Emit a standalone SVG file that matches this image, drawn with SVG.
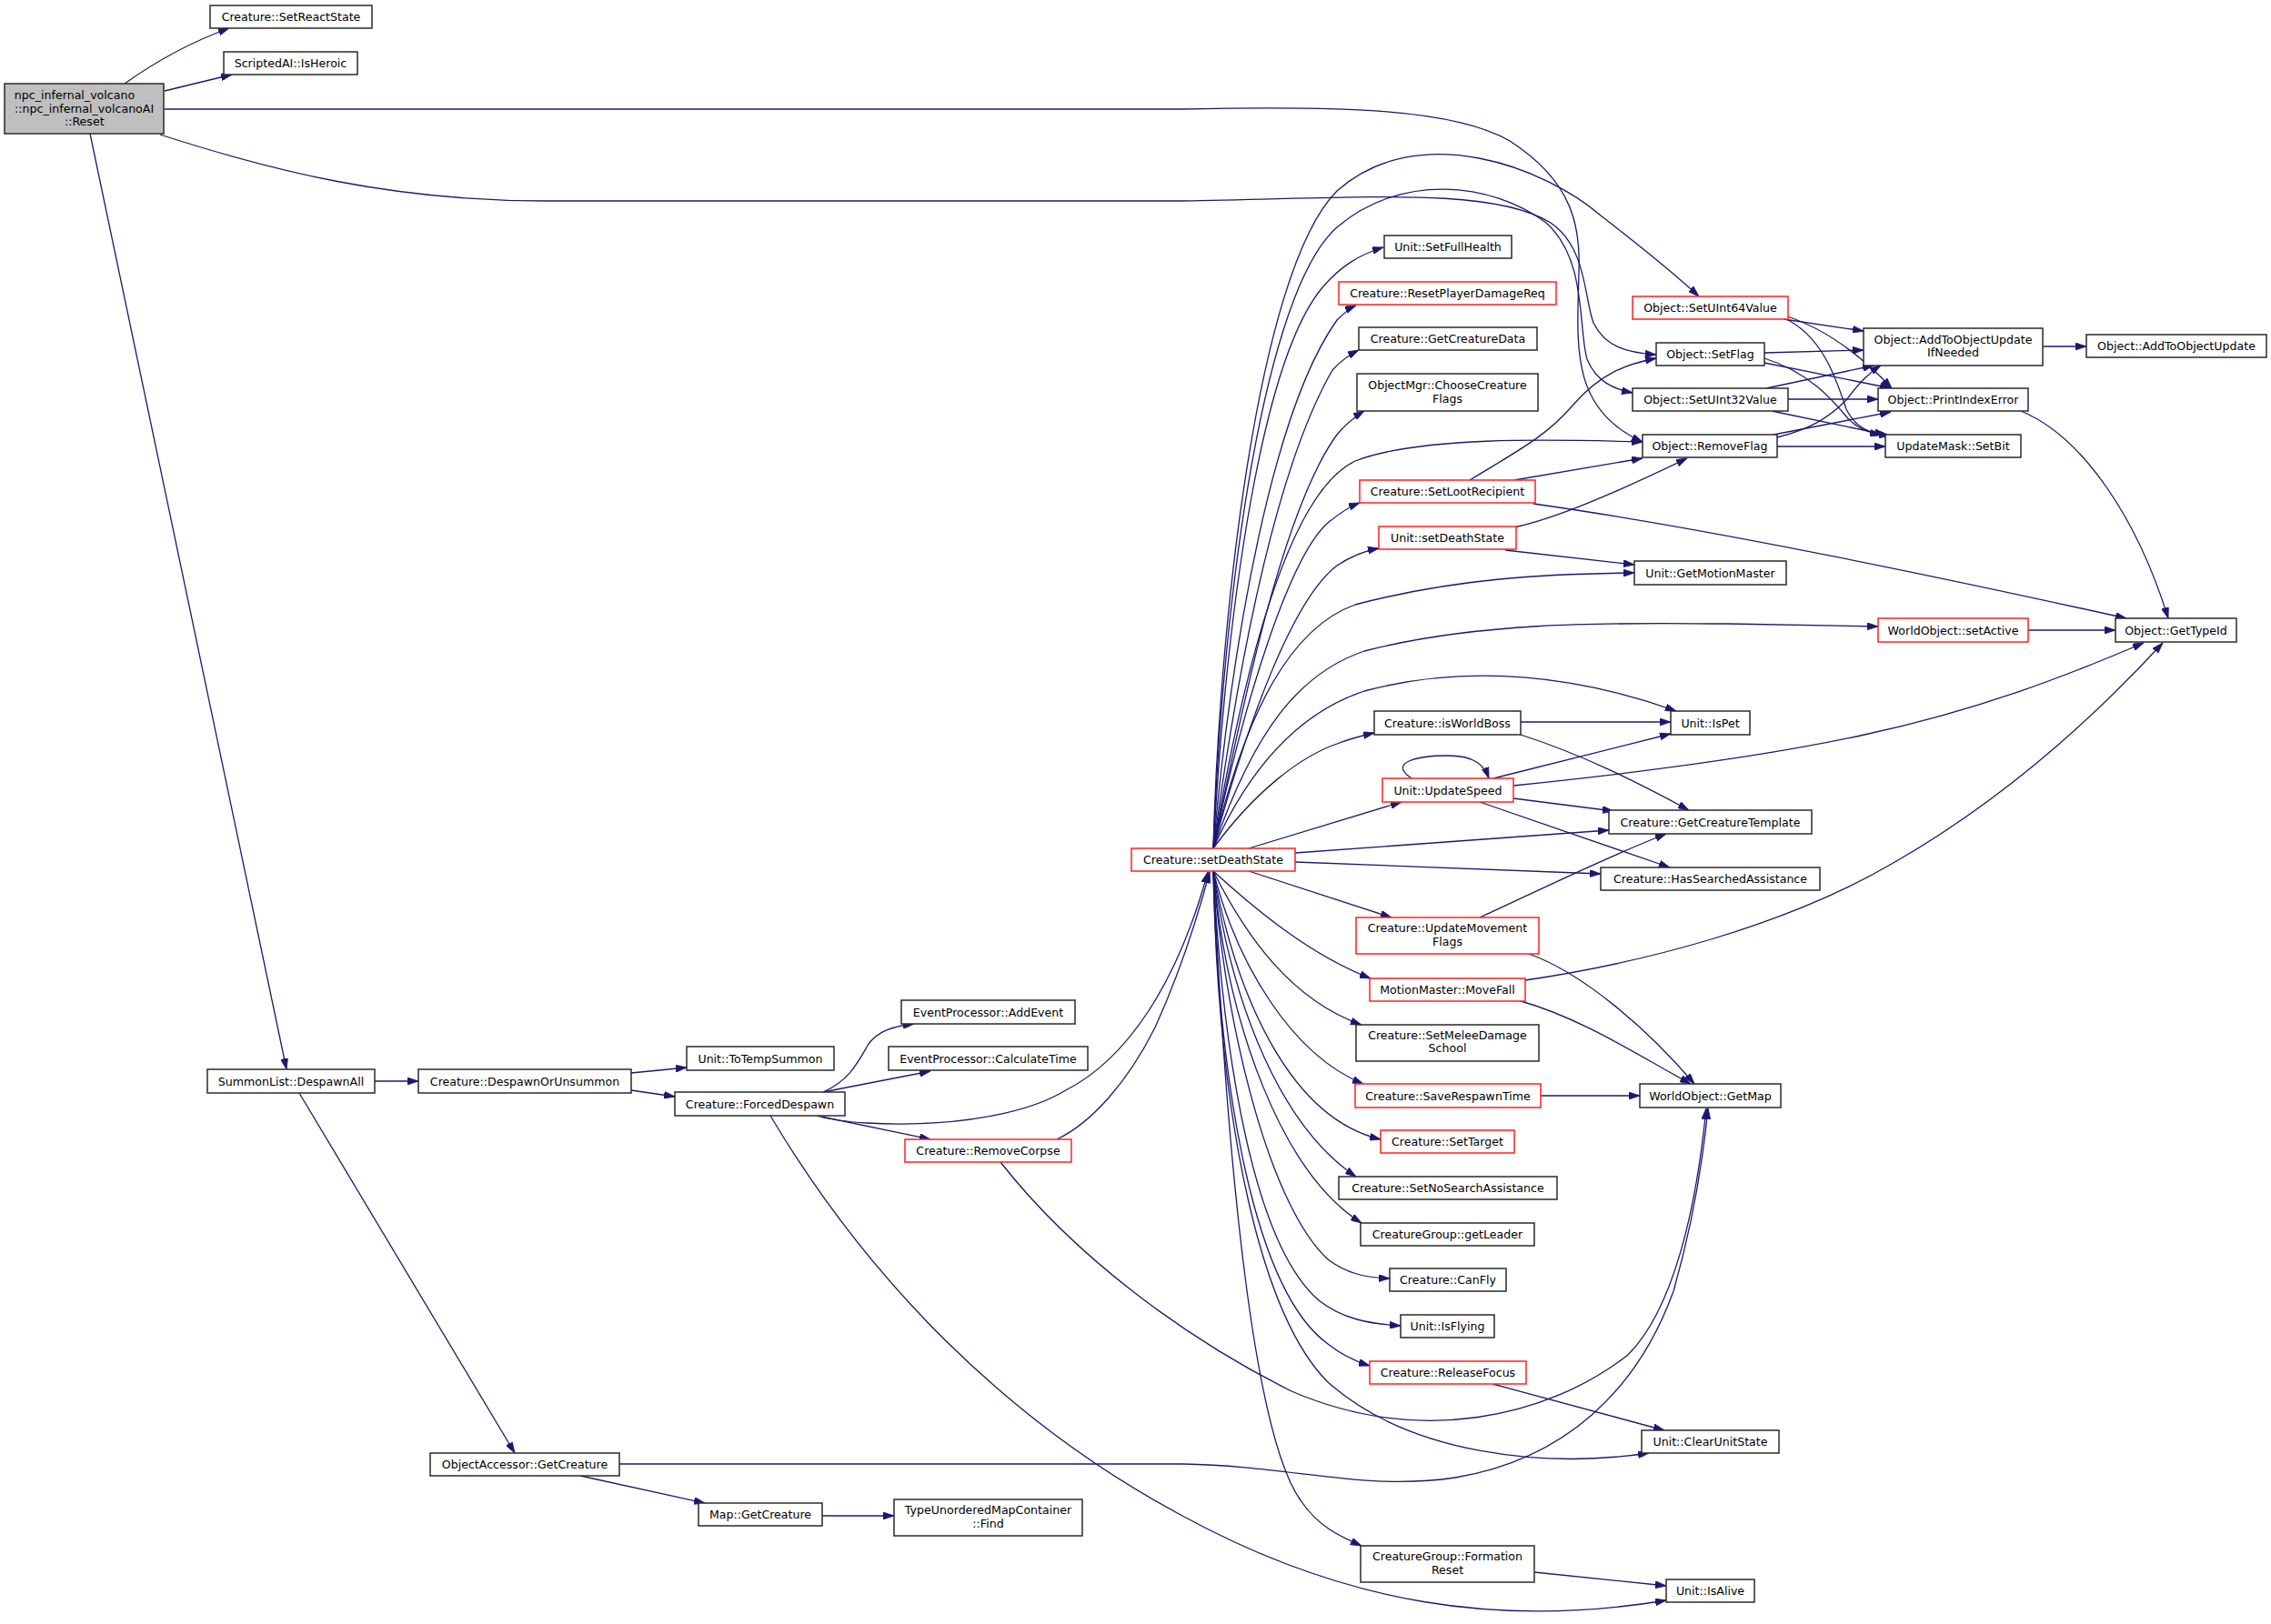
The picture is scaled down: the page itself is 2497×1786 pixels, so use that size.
<svg xmlns="http://www.w3.org/2000/svg" width="2497" height="1786" viewBox="0 0 2497 1786">
<defs>
<style>
.n rect{fill:#ffffff;stroke:#2a2a2a;stroke-width:1.5}
.n.r rect{stroke:#ff2020}
.n.m rect{fill:#bfbfbf}
.n text{font-family:"DejaVu Sans","Liberation Sans",sans-serif;font-size:12.6px;fill:#000;text-anchor:middle}
#edges path{fill:none;stroke:#191970;stroke-width:1.3;marker-end:url(#ah)}
</style>
<marker id="ah" viewBox="0 0 12 8" refX="12" refY="4" markerWidth="12" markerHeight="8" markerUnits="userSpaceOnUse" orient="auto">
<path d="M0,0 L12,4 L0,8 z" fill="#191970" stroke="#191970" stroke-width="0.8"/>
</marker>
</defs>
<rect x="0" y="0" width="2497" height="1786" fill="#ffffff"/>
<g id="edges">
<path d="M137,92 C165,72 205,48 252,31"/>
<path d="M181,100 L255,82"/>
<path d="M181,120 L1300,120 C1480,116 1600,120 1660,155 C1730,200 1738,250 1736,300 C1734,380 1726,450 1806,486"/>
<path d="M176,148 C300,188 430,221 600,221 L1300,221 C1500,218 1640,205 1705,245 C1745,272 1742,330 1752,355 C1765,382 1790,388 1821,390"/>
<path d="M99,147 L315,1176"/>
<path d="M412,1189 L460,1189"/>
<path d="M329,1202 L566,1598"/>
<path d="M694,1180 L755,1174"/>
<path d="M694,1199 L742,1206"/>
<path d="M905,1201 C935,1188 945,1165 955,1148 C966,1134 980,1129 1005,1126"/>
<path d="M905,1201 L1023,1178"/>
<path d="M898,1227 C950,1242 1100,1242 1170,1200 C1240,1165 1295,1080 1328,959"/>
<path d="M903,1228 L1023,1253"/>
<path d="M847,1227 C950,1400 1100,1560 1300,1667 C1480,1765 1650,1790 1832,1760"/>
<path d="M1162,1253 C1200,1235 1240,1190 1270,1130 C1295,1075 1315,1015 1330,959"/>
<path d="M1100,1278 C1180,1380 1300,1470 1420,1530 C1560,1590 1700,1560 1790,1490 C1840,1440 1865,1330 1876,1219"/>
<path d="M681,1610 L1300,1610 C1420,1612 1500,1640 1600,1625 C1720,1605 1800,1530 1840,1420 C1860,1350 1872,1280 1878,1219"/>
<path d="M638,1623 L775,1653"/>
<path d="M904,1667 L983,1667"/>
<path d="M1334,933 C1340,700 1380,300 1470,210 C1560,130 1700,185 1760,237 C1800,268 1840,300 1868,326"/>
<path d="M1334,933 C1345,650 1390,320 1470,250 C1540,190 1640,200 1700,245 C1745,285 1735,360 1745,395 C1755,420 1775,428 1795,432"/>
<path d="M1334,933 C1350,650 1390,390 1455,315 C1475,292 1495,280 1521,272"/>
<path d="M1334,933 C1355,700 1400,450 1470,352 C1478,344 1484,339 1491,336"/>
<path d="M1334,933 C1360,740 1400,520 1465,407 C1475,396 1484,390 1494,385"/>
<path d="M1334,933 C1365,780 1410,560 1470,478 C1480,466 1490,458 1500,452"/>
<path d="M1334,933 C1370,720 1420,540 1490,507 C1560,480 1700,483 1806,486"/>
<path d="M1334,933 C1370,760 1420,610 1460,575 C1472,565 1482,558 1495,553"/>
<path d="M1334,933 C1370,800 1420,660 1470,622 C1485,612 1500,606 1516,603"/>
<path d="M1334,933 C1370,780 1420,690 1490,665 C1600,636 1700,631 1797,630"/>
<path d="M1334,933 C1380,800 1430,740 1500,716 C1640,680 1800,686 1900,686 L2065,689"/>
<path d="M1334,933 C1380,830 1440,780 1500,760 C1620,728 1740,745 1843,782"/>
<path d="M1334,933 C1380,870 1430,832 1470,818 C1485,812 1498,809 1511,806"/>
<path d="M1373,933 L1541,882"/>
<path d="M1424,938 L1769,913"/>
<path d="M1424,948 L1760,961"/>
<path d="M1373,958 L1530,1009"/>
<path d="M1334,958 C1380,1000 1440,1050 1507,1076"/>
<path d="M1334,958 C1370,1030 1420,1100 1497,1127"/>
<path d="M1334,958 C1360,1060 1420,1160 1499,1192"/>
<path d="M1334,958 C1360,1100 1420,1230 1518,1253"/>
<path d="M1334,958 C1355,1110 1410,1240 1491,1294"/>
<path d="M1334,958 C1350,1130 1410,1290 1497,1345"/>
<path d="M1334,958 C1350,1150 1400,1330 1460,1385 C1480,1400 1500,1405 1528,1406"/>
<path d="M1334,958 C1345,1170 1380,1370 1450,1430 C1475,1450 1505,1456 1540,1458"/>
<path d="M1334,958 C1340,1200 1380,1420 1460,1478 C1475,1490 1490,1497 1506,1502"/>
<path d="M1334,958 C1340,1250 1390,1450 1460,1520 C1550,1600 1700,1615 1813,1598"/>
<path d="M1334,958 C1350,1300 1380,1580 1430,1650 C1450,1680 1475,1690 1497,1700"/>
<path d="M1641,1522 L1830,1573"/>
<path d="M1687,1729 L1832,1744"/>
<path d="M1672,794 L1837,794"/>
<path d="M1672,808 C1740,830 1800,860 1857,891"/>
<path d="M1552,856 C1525,838 1560,831 1592,831 C1622,831 1632,842 1637,856"/>
<path d="M1642,856 L1837,807"/>
<path d="M1664,864 C1800,850 1950,830 2050,808 C2180,780 2280,740 2357,707"/>
<path d="M1664,878 L1774,892"/>
<path d="M1627,882 L1836,954"/>
<path d="M1627,1009 C1680,985 1760,945 1832,917"/>
<path d="M1681,1049 C1740,1070 1810,1130 1863,1192"/>
<path d="M1677,1078 C1800,1060 1960,1020 2080,950 C2220,870 2320,770 2378,707"/>
<path d="M1669,1100 C1740,1120 1800,1160 1859,1192"/>
<path d="M1694,1205 L1803,1205"/>
<path d="M2230,693 L2326,693"/>
<path d="M1686,554 C1800,570 2000,605 2338,680"/>
<path d="M2222,452 C2290,480 2350,570 2384,680"/>
<path d="M1616,528 C1670,495 1700,480 1730,445 C1760,410 1790,400 1821,394"/>
<path d="M1665,528 L1806,504"/>
<path d="M1665,580 C1710,570 1770,545 1855,504"/>
<path d="M1655,605 L1797,621"/>
<path d="M1961,351 L2049,364"/>
<path d="M1962,347 C2010,362 2050,395 2080,427"/>
<path d="M1962,350 C2005,370 2020,420 2030,450 C2040,470 2055,477 2078,479"/>
<path d="M1940,388 L2049,385"/>
<path d="M1940,399 L2079,427"/>
<path d="M1940,394 C1990,410 2015,440 2030,458 C2040,470 2055,476 2068,478"/>
<path d="M1942,427 L2060,402"/>
<path d="M1966,439 L2065,439"/>
<path d="M1948,452 L2073,478"/>
<path d="M1954,481 C1990,472 2010,460 2030,440 C2045,420 2055,410 2068,402"/>
<path d="M1950,478 L2079,453"/>
<path d="M1954,491 L2073,491"/>
<path d="M2246,381 L2294,381"/>
</g>
<g id="n_main" class="n m"><rect x="5" y="92" width="175" height="55"/><text x="82" y="109">npc_infernal_volcano</text><text x="92.6" y="123.5">::npc_infernal_volcanoAI</text><text x="92.8" y="138">::Reset</text></g>
<g id="n_setreactstate" class="n"><rect x="231" y="6" width="178" height="25"/><text x="320" y="23">Creature::SetReactState</text></g>
<g id="n_isheroic" class="n"><rect x="246" y="57" width="147" height="25"/><text x="319.5" y="74">ScriptedAI::IsHeroic</text></g>
<g id="n_setuint64" class="n r"><rect x="1795" y="326" width="171" height="25"/><text x="1880.5" y="343">Object::SetUInt64Value</text></g>
<g id="n_setflag" class="n"><rect x="1821" y="377" width="119" height="25"/><text x="1880.5" y="394">Object::SetFlag</text></g>
<g id="n_setuint32" class="n"><rect x="1795" y="427" width="171" height="25"/><text x="1880.5" y="444">Object::SetUInt32Value</text></g>
<g id="n_removeflag" class="n"><rect x="1806" y="478" width="148" height="25"/><text x="1880" y="495">Object::RemoveFlag</text></g>
<g id="n_addifneeded" class="n"><rect x="2049" y="361" width="197" height="41"/><text x="2147.5" y="377.5">Object::AddToObjectUpdate</text><text x="2147.5" y="392">IfNeeded</text></g>
<g id="n_addupdate" class="n"><rect x="2294" y="368" width="198" height="25"/><text x="2393" y="385">Object::AddToObjectUpdate</text></g>
<g id="n_printindex" class="n"><rect x="2065" y="427" width="165" height="25"/><text x="2147.5" y="444">Object::PrintIndexError</text></g>
<g id="n_setbit" class="n"><rect x="2073" y="478" width="149" height="25"/><text x="2147.5" y="495">UpdateMask::SetBit</text></g>
<g id="n_setfullhealth" class="n"><rect x="1522" y="259" width="140" height="25"/><text x="1592" y="276">Unit::SetFullHealth</text></g>
<g id="n_resetdmg" class="n r"><rect x="1472" y="310" width="239" height="25"/><text x="1591.5" y="327">Creature::ResetPlayerDamageReq</text></g>
<g id="n_getcreaturedata" class="n"><rect x="1494" y="360" width="196" height="25"/><text x="1592" y="377">Creature::GetCreatureData</text></g>
<g id="n_choosecflags" class="n"><rect x="1492" y="411" width="199" height="41"/><text x="1591.5" y="428">ObjectMgr::ChooseCreature</text><text x="1591.5" y="442.7">Flags</text></g>
<g id="n_setloot" class="n r"><rect x="1495" y="528" width="193" height="25"/><text x="1591.5" y="545">Creature::SetLootRecipient</text></g>
<g id="n_unitsetdeath" class="n r"><rect x="1516" y="579" width="151" height="25"/><text x="1591.5" y="596">Unit::setDeathState</text></g>
<g id="n_getmotion" class="n"><rect x="1797" y="617" width="167" height="26"/><text x="1880.5" y="634.5">Unit::GetMotionMaster</text></g>
<g id="n_setactive" class="n r"><rect x="2065" y="680" width="165" height="26"/><text x="2147.5" y="697.5">WorldObject::setActive</text></g>
<g id="n_gettypeid" class="n"><rect x="2326" y="680" width="133" height="26"/><text x="2392.5" y="697.5">Object::GetTypeId</text></g>
<g id="n_isworldboss" class="n"><rect x="1511" y="782" width="161" height="26"/><text x="1591.5" y="799.5">Creature::isWorldBoss</text></g>
<g id="n_ispet" class="n"><rect x="1837" y="782" width="87" height="26"/><text x="1880.5" y="799.5">Unit::IsPet</text></g>
<g id="n_updatespeed" class="n r"><rect x="1520" y="856" width="144" height="26"/><text x="1592" y="873.5">Unit::UpdateSpeed</text></g>
<g id="n_gettemplate" class="n"><rect x="1769" y="891" width="223" height="26"/><text x="1880.5" y="908.5">Creature::GetCreatureTemplate</text></g>
<g id="n_setdeathstate" class="n r"><rect x="1244" y="933" width="180" height="25"/><text x="1334" y="950">Creature::setDeathState</text></g>
<g id="n_hassearched" class="n"><rect x="1760" y="954" width="241" height="25"/><text x="1880.5" y="971">Creature::HasSearchedAssistance</text></g>
<g id="n_updatemoveflags" class="n r"><rect x="1491" y="1009" width="201" height="40"/><text x="1591.5" y="1025">Creature::UpdateMovement</text><text x="1591.5" y="1040">Flags</text></g>
<g id="n_movefall" class="n r"><rect x="1506" y="1076" width="171" height="25"/><text x="1591.5" y="1093">MotionMaster::MoveFall</text></g>
<g id="n_setmelee" class="n"><rect x="1491" y="1127" width="201" height="40"/><text x="1591.5" y="1143">Creature::SetMeleeDamage</text><text x="1591.5" y="1157">School</text></g>
<g id="n_saverespawn" class="n r"><rect x="1490" y="1192" width="204" height="26"/><text x="1592" y="1209.5">Creature::SaveRespawnTime</text></g>
<g id="n_getmap" class="n"><rect x="1803" y="1192" width="155" height="26"/><text x="1880.5" y="1209.5">WorldObject::GetMap</text></g>
<g id="n_settarget" class="n r"><rect x="1518" y="1243" width="147" height="25"/><text x="1591.5" y="1260">Creature::SetTarget</text></g>
<g id="n_setnosearch" class="n"><rect x="1472" y="1294" width="240" height="25"/><text x="1592" y="1311">Creature::SetNoSearchAssistance</text></g>
<g id="n_getleader" class="n"><rect x="1496" y="1345" width="191" height="25"/><text x="1591.5" y="1362">CreatureGroup::getLeader</text></g>
<g id="n_canfly" class="n"><rect x="1528" y="1395" width="128" height="25"/><text x="1592" y="1412">Creature::CanFly</text></g>
<g id="n_isflying" class="n"><rect x="1540" y="1446" width="103" height="25"/><text x="1591.5" y="1463">Unit::IsFlying</text></g>
<g id="n_releasefocus" class="n r"><rect x="1506" y="1497" width="172" height="25"/><text x="1592" y="1514">Creature::ReleaseFocus</text></g>
<g id="n_clearunitstate" class="n"><rect x="1805" y="1573" width="151" height="25"/><text x="1880.5" y="1590">Unit::ClearUnitState</text></g>
<g id="n_formationreset" class="n"><rect x="1496" y="1700" width="191" height="40"/><text x="1591.5" y="1716">CreatureGroup::Formation</text><text x="1591.5" y="1731">Reset</text></g>
<g id="n_isalive" class="n"><rect x="1832" y="1737" width="97" height="25"/><text x="1880.5" y="1754">Unit::IsAlive</text></g>
<g id="n_despawnall" class="n"><rect x="228" y="1176" width="184" height="26"/><text x="320" y="1193.5">SummonList::DespawnAll</text></g>
<g id="n_despawnorunsummon" class="n"><rect x="460" y="1176" width="234" height="26"/><text x="577" y="1193.5">Creature::DespawnOrUnsummon</text></g>
<g id="n_totempsummon" class="n"><rect x="755" y="1151" width="162" height="26"/><text x="836" y="1168.5">Unit::ToTempSummon</text></g>
<g id="n_addevent" class="n"><rect x="991" y="1100" width="191" height="26"/><text x="1086.5" y="1117.5">EventProcessor::AddEvent</text></g>
<g id="n_calculatetime" class="n"><rect x="977" y="1151" width="219" height="26"/><text x="1086.5" y="1168.5">EventProcessor::CalculateTime</text></g>
<g id="n_forceddespawn" class="n"><rect x="742" y="1201" width="187" height="26"/><text x="835.5" y="1218.5">Creature::ForcedDespawn</text></g>
<g id="n_removecorpse" class="n r"><rect x="995" y="1253" width="183" height="25"/><text x="1086.5" y="1270">Creature::RemoveCorpse</text></g>
<g id="n_oagetcreature" class="n"><rect x="473" y="1598" width="208" height="25"/><text x="577" y="1615">ObjectAccessor::GetCreature</text></g>
<g id="n_mapgetcreature" class="n"><rect x="768" y="1653" width="136" height="25"/><text x="836" y="1670">Map::GetCreature</text></g>
<g id="n_find" class="n"><rect x="983" y="1649" width="207" height="40"/><text x="1086.5" y="1665">TypeUnorderedMapContainer</text><text x="1086.5" y="1679.5">::Find</text></g>
</svg>
